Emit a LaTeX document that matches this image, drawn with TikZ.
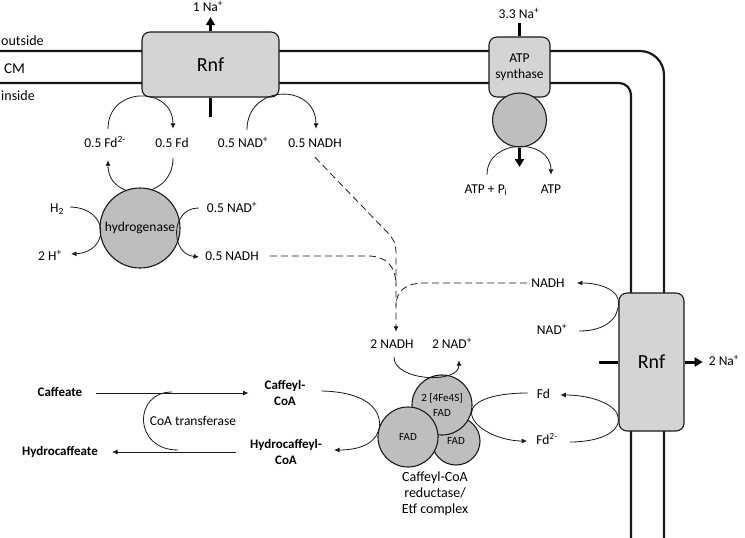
\documentclass[tikz,border=0pt]{standalone}
\usepackage{fontspec}
\setmainfont{Carlito}
\usetikzlibrary{arrows.meta,calc}
\definecolor{boxgray}{RGB}{212,212,212}
\definecolor{circgray}{RGB}{190,190,190}
\definecolor{ink}{RGB}{25,25,25}
\tikzset{
  mem/.style={line width=2.2pt, draw=ink},
  pbox/.style={draw=ink, line width=1.1pt, fill=boxgray, rounded corners=8pt, inner sep=0pt},
  pcirc/.style={circle, draw=ink, line width=1.1pt, fill=circgray, inner sep=0pt},
  lbl/.style={inner sep=2pt, text height=9.5pt, text depth=2.5pt},
  blbl/.style={lbl, font=\fontsize{13}{16}\selectfont\bfseries},
  bml/.style={inner sep=2pt, align=center, font=\fontsize{13}{16}\selectfont\bfseries},
  rx/.style={line width=0.8pt, draw=ink},
  arr/.style={rx, -{Latex[length=5.5pt,width=5pt]}},
  fat/.style={line width=3pt, draw=black},
  fatarr/.style={fat, -{Triangle[length=8pt,width=9pt]}},
  dashline/.style={rx, dash pattern=on 7pt off 4pt}
}
\begin{document}
\begin{tikzpicture}[x=1pt, y=-1pt, font=\fontsize{13.5}{16}\selectfont, line join=round]
\useasboundingbox (0,0) rectangle (745,538);

% membrane
\draw[mem, rounded corners=24pt] (0,51) -- (664,51) -- (664,545);
\draw[mem, rounded corners=12pt] (0,83) -- (631,83) -- (631,545);

\node[lbl, anchor=west, inner sep=0pt, font=\fontsize{14}{16}\selectfont] (outs) at (1,42) {outside};
\node[lbl, anchor=west, inner sep=0pt, font=\fontsize{15}{16}\selectfont] (cm) at (4,70) {CM};
\node[lbl, anchor=west, inner sep=0pt, font=\fontsize{14}{16}\selectfont] (ins) at (1,97) {inside};

% top Rnf
\node[pbox, minimum width=137pt, minimum height=65pt, font=\fontsize{20}{22}\selectfont] (rnfA) at (210.5,64.5) {Rnf};
\node[lbl] (na1) at (208,8) {1 Na\textsuperscript{+}};
\draw[fatarr, shorten >=1pt] (rnfA.north) -- (na1.south -| rnfA.north);
\coordinate (rnfAbot) at (210.5,117);
\draw[fat] (rnfA.south) -- (rnfAbot);

% ATP synthase
\node[pbox, minimum width=61pt, minimum height=60pt, align=center] (atp) at (519.5,67) {ATP\\synthase};
\node[pcirc, minimum size=54pt] (atpc) at (519.5,120) {};
\node[lbl] (na3) at (519,15) {3.3 Na\textsuperscript{+}};
\draw[fat] (atp.north) -- (na3.south -| atp.north);
\coordinate (atpout) at (519.5,167);
\draw[fatarr] (atpc.south) -- (atpout);
\node[lbl] (atppi) at (486,190) {ATP + P\textsubscript{i}};
\node[lbl] (atpo) at (551,190) {ATP};
\draw[arr] ($(atppi.north)+(1,-7)$) .. controls +(0,-37) and +(0,-37) .. ($(atpo.north)+(0,-7)$);

% Rnf top products
\node[lbl] (fdr) at (105,144) {0.5 Fd\textsuperscript{2-}};
\node[lbl] (fdo) at (172,144) {0.5 Fd};
\node[lbl] (nadp1) at (243,144) {0.5 NAD\textsuperscript{+}};
\node[lbl] (nadh1) at (315,144) {0.5 NADH};
\draw[arr] ($(fdr.north)+(3,-7)$) .. controls +(0,-43) and +(0,-43) .. ($(fdo.north)+(1,-7)$);
\draw[arr] ($(nadp1.north)+(4,-6)$) .. controls +(0,-46) and +(0,-46) .. ($(nadh1.north)+(1,-7)$);
\draw[arr] ($(fdo.south)+(1,6)$) .. controls +(0,43) and +(0,43) .. ($(fdr.south)+(3,8)$);

% hydrogenase
\node[pcirc, minimum size=80pt] (hyd) at (140,228) {hydrogenase};
\node[lbl] (h2) at (57,209) {H\textsubscript{2}};
\node[lbl] (hp) at (50,257) {2 H\textsuperscript{+}};
\node[lbl] (nadp2) at (232,209) {0.5 NAD\textsuperscript{+}};
\node[lbl] (nadh2) at (232,257) {0.5 NADH};
\draw[arr] ($(h2.east)+(4,-2)$) .. controls (110,208) and (110,252) .. ($(hp.east)+(7,-3)$);
\draw[arr] ($(nadp2.west)+(-6,-1)$) .. controls (170,208) and (170,254) .. ($(nadh2.west)+(-4,0)$);

% central NADH pool
\node[lbl] (nadh3) at (392,345) {2 NADH};
\node[lbl] (nadp3) at (452,345) {2 NAD\textsuperscript{+}};
\node[lbl] (nadhR) at (548,284) {NADH};
\node[lbl] (nadpR) at (552,331) {NAD\textsuperscript{+}};
\draw[dashline, arr] ($(nadh1.south)+(0,5)$) -- (386,231) .. controls (394,239) and (396,244) .. (396,254) -- ($(nadh3.north)+(4,-5)$);
\draw[dashline] ($(nadh2.east)+(9,-1)$) -- (368,256) .. controls (386,256) and (396,266) .. (396,285);
\draw[dashline] ($(nadhR.west)+(-2,-1)$) -- (424,283) .. controls (406,283) and (396,291) .. (396,306);

% complex
\node[pcirc, minimum size=48pt, font=\fontsize{11}{13}\selectfont] (fright) at (456,441) {FAD};
\node[pcirc, minimum size=60pt, align=center, font=\fontsize{11}{15}\selectfont] (ftop) at (442,405) {2 [4Fe4S]\\FAD};
\node[pcirc, minimum size=60pt, font=\fontsize{11}{13}\selectfont] (fleft) at (408,437) {FAD};
\node[align=center, font=\fontsize{14}{16}\selectfont] (cxl) at (435,494) {Caffeyl-CoA\\reductase/\\Etf complex};
\draw[arr] ($(nadh3.south)+(2,4)$) .. controls +(0,24) and +(0,24) .. ($(nadp3.south)+(7,7)$);

% right Rnf
\node[pbox, minimum width=65pt, minimum height=138pt, font=\fontsize{20}{22}\selectfont] (rnfB) at (651.5,362) {Rnf};
\coordinate (rbl) at (599,362);
\draw[fat] (rnfB.west) -- (rbl);
\node[lbl] (na2) at (724,362) {2 Na\textsuperscript{+}};
\draw[fatarr, shorten >=4pt] (rnfB.east) -- (na2.west);
\draw[arr] ($(nadpR.east)+(10,0)$) .. controls (606,331) and (619,318) .. ($(rnfB.north west)+(0,10)$) .. controls (619,290) and (600,283) .. ($(nadhR.east)+(10,-1)$);

\node[lbl] (fdR) at (543.5,395) {Fd};
\node[lbl] (fdrR) at (547,441) {Fd\textsuperscript{2-}};
\draw[arr] ($(fdrR.east)+(10,1)$) .. controls (600,442) and (619,432) .. ($(rnfB.south west)+(0,-12)$) .. controls (619,405) and (592,395) .. ($(fdR.east)+(8,0)$);
\draw[arr] ($(fdR.west)+(-7,-2)$) .. controls (496,393) and (472,400) .. (ftop.-15) .. controls (472,428) and (500,441) .. ($(fdrR.west)+(-7,0)$);

% caffeate branch
\node[blbl] (cafe) at (60,393) {Caffeate};
\node[bml] (cafcoa) at (285,393) {Caffeyl-\\CoA};
\node[blbl] (hca) at (60,452) {Hydrocaffeate};
\node[bml] (hcacoa) at (286,452) {Hydrocaffeyl-\\CoA};
\draw[arr, shorten <=12pt, shorten >=14pt] (cafe.east) -- (cafcoa.west);
\draw[arr, shorten <=12pt, shorten >=12pt] (hcacoa.west) -- (hca.east);
\coordinate (ct1) at (172,392);
\coordinate (ct2) at (178,450);
\draw[rx] (ct1) .. controls (133,392) and (133,450) .. (ct2);
\node[lbl] (cotr) at (193,422) {CoA transferase};
\draw[arr] ($(cafcoa.east)+(14,-2)$) .. controls (365,392) and (380,408) .. (fleft.158) .. controls (378,442) and (362,450) .. ($(hcacoa.east)+(10,-2)$);
\end{tikzpicture}
\end{document}
